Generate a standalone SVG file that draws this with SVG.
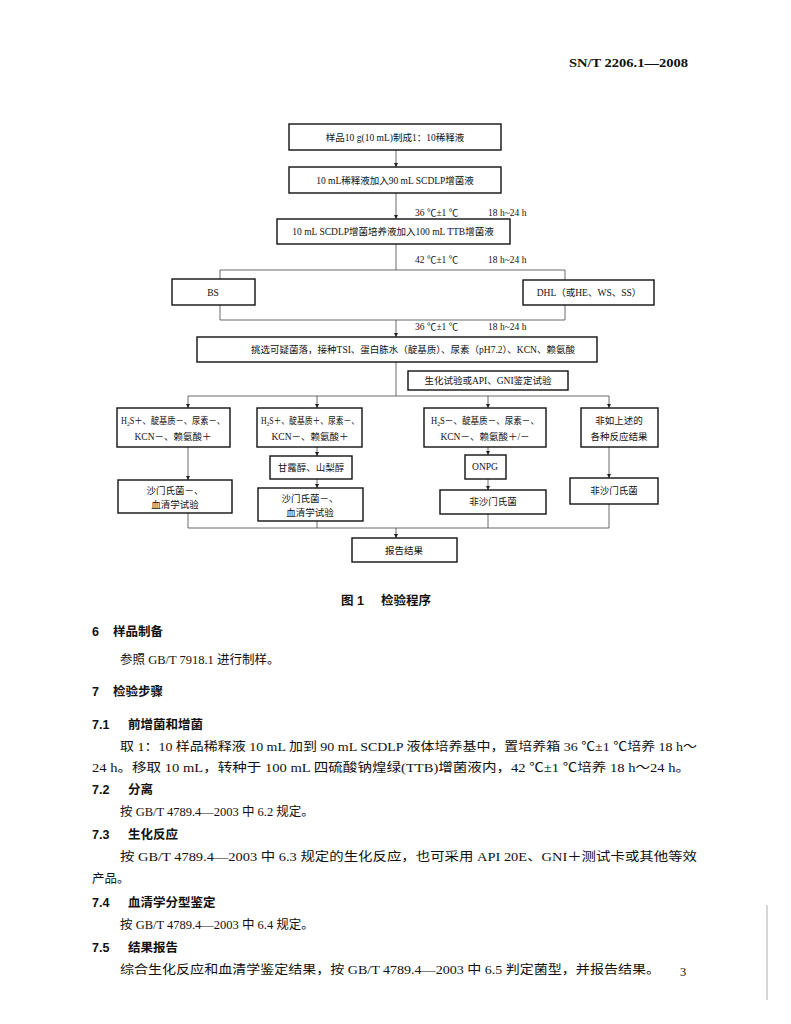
<svg xmlns="http://www.w3.org/2000/svg" width="791" height="1024" viewBox="0 0 791 1024">
<defs>
<marker id="ah" viewBox="0 0 6 6" refX="6" refY="3" markerWidth="4" markerHeight="4" orient="auto" markerUnits="userSpaceOnUse"><path d="M0,0 L6,3 L0,6 z" fill="#222"/></marker>
<style>
.box{fill:#fff;stroke:#111;stroke-width:1.4}
.ln{fill:none;stroke:#444;stroke-width:0.8}
.ar{fill:none;stroke:#444;stroke-width:0.8;marker-end:url(#ah)}
.ft{font-family:"Liberation Serif","Noto Sans CJK SC",serif;font-size:9.5px;fill:#111;text-anchor:middle}
.lb{font-family:"Liberation Serif","Noto Sans CJK SC",serif;font-size:9.5px;fill:#111}
.bd{font-family:"Liberation Serif","Noto Sans CJK SC",serif;font-size:12.5px;fill:#111}
.hd{font-family:"Liberation Sans","Noto Sans CJK SC",sans-serif;font-size:12.5px;font-weight:bold;fill:#111}
</style>
</defs>
<rect width="791" height="1024" fill="#fff"/>
<text x="569" y="67" font-family="Liberation Serif,serif" font-weight="bold" font-size="13" fill="#111" textLength="119" lengthAdjust="spacingAndGlyphs">SN/T 2206.1—2008</text>

<g id="connectors">
<path class="ar" d="M396,150 V167"/>
<path class="ar" d="M396,193 V219"/>
<path class="ln" d="M396,244 V270 M220,270 H565 M220,270 V279 M565,270 V280"/>
<path class="ln" d="M220,305 V320 M565,305 V320 M220,320 H565"/>
<path class="ar" d="M396,320 V337"/>
<path class="ln" d="M396,362 V396 M188,396 H609"/>
<path class="ar" d="M188,396 V408"/>
<path class="ar" d="M317,396 V408"/>
<path class="ar" d="M488,396 V408"/>
<path class="ar" d="M609,396 V408"/>
<path class="ar" d="M188,447 V480"/>
<path class="ar" d="M317,447 V456"/>
<path class="ar" d="M317,479 V488"/>
<path class="ar" d="M488,447 V455"/>
<path class="ar" d="M488,479 V490"/>
<path class="ar" d="M609,447 V478"/>
<path class="ln" d="M188,513 V528 M317,521 V528 M488,514 V528 M609,504 V528 M188,528 H609"/>
<path class="ar" d="M396,528 V538"/>
</g>

<text class="lb" x="415" y="216">36 ℃±1 ℃</text><text class="lb" x="488" y="216">18 h~24 h</text>
<text class="lb" x="415" y="263">42 ℃±1 ℃</text><text class="lb" x="488" y="263">18 h~24 h</text>
<text class="lb" x="415" y="330">36 ℃±1 ℃</text><text class="lb" x="488" y="330">18 h~24 h</text>

<g id="n1"><rect class="box" x="289" y="124" width="212" height="26"/><text class="ft" x="395" y="141">样品10 g(10 mL)制成1：10稀释液</text></g>
<g id="n2"><rect class="box" x="289" y="167" width="212" height="26"/><text class="ft" x="395" y="184">10 mL稀释液加入90 mL SCDLP增菌液</text></g>
<g id="n3"><rect class="box" x="277" y="219" width="233" height="25"/><text class="ft" x="393" y="235">10 mL SCDLP增菌培养液加入100 mL TTB增菌液</text></g>
<g id="n4"><rect class="box" x="172" y="279" width="83" height="26"/><text class="ft" x="213" y="296">BS</text></g>
<g id="n5"><rect class="box" x="523" y="280" width="131" height="25"/><text class="ft" x="589" y="296">DHL（或HE、WS、SS）</text></g>
<g id="n6"><rect class="box" x="197" y="337" width="400" height="25"/><text class="ft" x="413" y="353">挑选可疑菌落，接种TSI、蛋白胨水（靛基质）、尿素（pH7.2）、KCN、赖氨酸</text></g>
<g id="n7"><rect class="box" x="408" y="371" width="160" height="19"/><text class="ft" x="488" y="384">生化试验或API、GNI鉴定试验</text></g>
<g id="n8"><rect class="box" x="117" y="408" width="113" height="39"/><text class="ft" x="173" y="424" textLength="104" lengthAdjust="spacingAndGlyphs">H<tspan font-size="6.5" dy="2">2</tspan><tspan dy="-2">S＋、靛基质－、尿素－、</tspan></text><text class="ft" x="173" y="440">KCN－、赖氨酸＋</text></g>
<g id="n9"><rect class="box" x="257" y="408" width="105" height="39"/><text class="ft" x="310" y="424" textLength="98" lengthAdjust="spacingAndGlyphs">H<tspan font-size="6.5" dy="2">2</tspan><tspan dy="-2">S＋、靛基质＋、尿素－、</tspan></text><text class="ft" x="310" y="440">KCN－、赖氨酸＋</text></g>
<g id="n10"><rect class="box" x="424" y="408" width="122" height="39"/><text class="ft" x="485" y="424" textLength="108" lengthAdjust="spacingAndGlyphs">H<tspan font-size="6.5" dy="2">2</tspan><tspan dy="-2">S－、靛基质－、尿素－、</tspan></text><text class="ft" x="485" y="440">KCN－、赖氨酸＋/－</text></g>
<g id="n11"><rect class="box" x="581" y="408" width="77" height="39"/><text class="ft" x="619" y="424">非如上述的</text><text class="ft" x="619" y="440">各种反应结果</text></g>
<g id="n12"><rect class="box" x="270" y="456" width="82" height="23"/><text class="ft" x="311" y="471">甘露醇、山梨醇</text></g>
<g id="n13"><rect class="box" x="465" y="455" width="41" height="24"/><text class="ft" x="485" y="470">ONPG</text></g>
<g id="n14"><rect class="box" x="118" y="480" width="114" height="33"/><text class="ft" x="175" y="494">沙门氏菌－、</text><text class="ft" x="175" y="508">血清学试验</text></g>
<g id="n15"><rect class="box" x="258" y="488" width="105" height="33"/><text class="ft" x="310" y="502">沙门氏菌－、</text><text class="ft" x="310" y="516">血清学试验</text></g>
<g id="n16"><rect class="box" x="440" y="490" width="106" height="24"/><text class="ft" x="493" y="505">非沙门氏菌</text></g>
<g id="n17"><rect class="box" x="570" y="478" width="88" height="26"/><text class="ft" x="614" y="494">非沙门氏菌</text></g>
<g id="n18"><rect class="box" x="352" y="538" width="105" height="24"/><text class="ft" x="404" y="554">报告结果</text></g>

<text class="hd" y="605"><tspan x="341">图 1</tspan><tspan x="381">检验程序</tspan></text>
<text class="hd" y="636"><tspan x="92">6</tspan><tspan x="113">样品制备</tspan></text>
<text class="bd" x="120" y="664">参照 GB/T 7918.1 进行制样。</text>
<text class="hd" y="696"><tspan x="92">7</tspan><tspan x="113">检验步骤</tspan></text>
<text class="hd" y="729"><tspan x="92">7.1</tspan><tspan x="128">前增菌和增菌</tspan></text>
<text class="bd" x="120" y="751" textLength="577" lengthAdjust="spacingAndGlyphs">取 1：10 样品稀释液 10 mL 加到 90 mL SCDLP 液体培养基中，置培养箱 36 ℃±1 ℃培养 18 h～</text>
<text class="bd" x="92" y="772" textLength="598" lengthAdjust="spacingAndGlyphs">24 h。移取 10 mL，转种于 100 mL 四硫酸钠煌绿(TTB)增菌液内，42 ℃±1 ℃培养 18 h～24 h。</text>
<text class="hd" y="794"><tspan x="92">7.2</tspan><tspan x="128">分离</tspan></text>
<text class="bd" x="120" y="816">按 GB/T 4789.4—2003 中 6.2 规定。</text>
<text class="hd" y="839"><tspan x="92">7.3</tspan><tspan x="128">生化反应</tspan></text>
<text class="bd" x="120" y="861" textLength="577" lengthAdjust="spacingAndGlyphs">按 GB/T 4789.4—2003 中 6.3 规定的生化反应，也可采用 API 20E、GNI＋测试卡或其他等效</text>
<text class="bd" x="92" y="883">产品。</text>
<text class="hd" y="907"><tspan x="92">7.4</tspan><tspan x="128">血清学分型鉴定</tspan></text>
<text class="bd" x="120" y="929">按 GB/T 4789.4—2003 中 6.4 规定。</text>
<text class="hd" y="952"><tspan x="92">7.5</tspan><tspan x="128">结果报告</tspan></text>
<text class="bd" x="120" y="974" textLength="540" lengthAdjust="spacingAndGlyphs">综合生化反应和血清学鉴定结果，按 GB/T 4789.4—2003 中 6.5 判定菌型，并报告结果。</text>
<text class="bd" x="680" y="976" font-size="11">3</text>
<line x1="767" y1="905" x2="767" y2="1000" stroke="#999" stroke-width="0.8"/>
</svg>
